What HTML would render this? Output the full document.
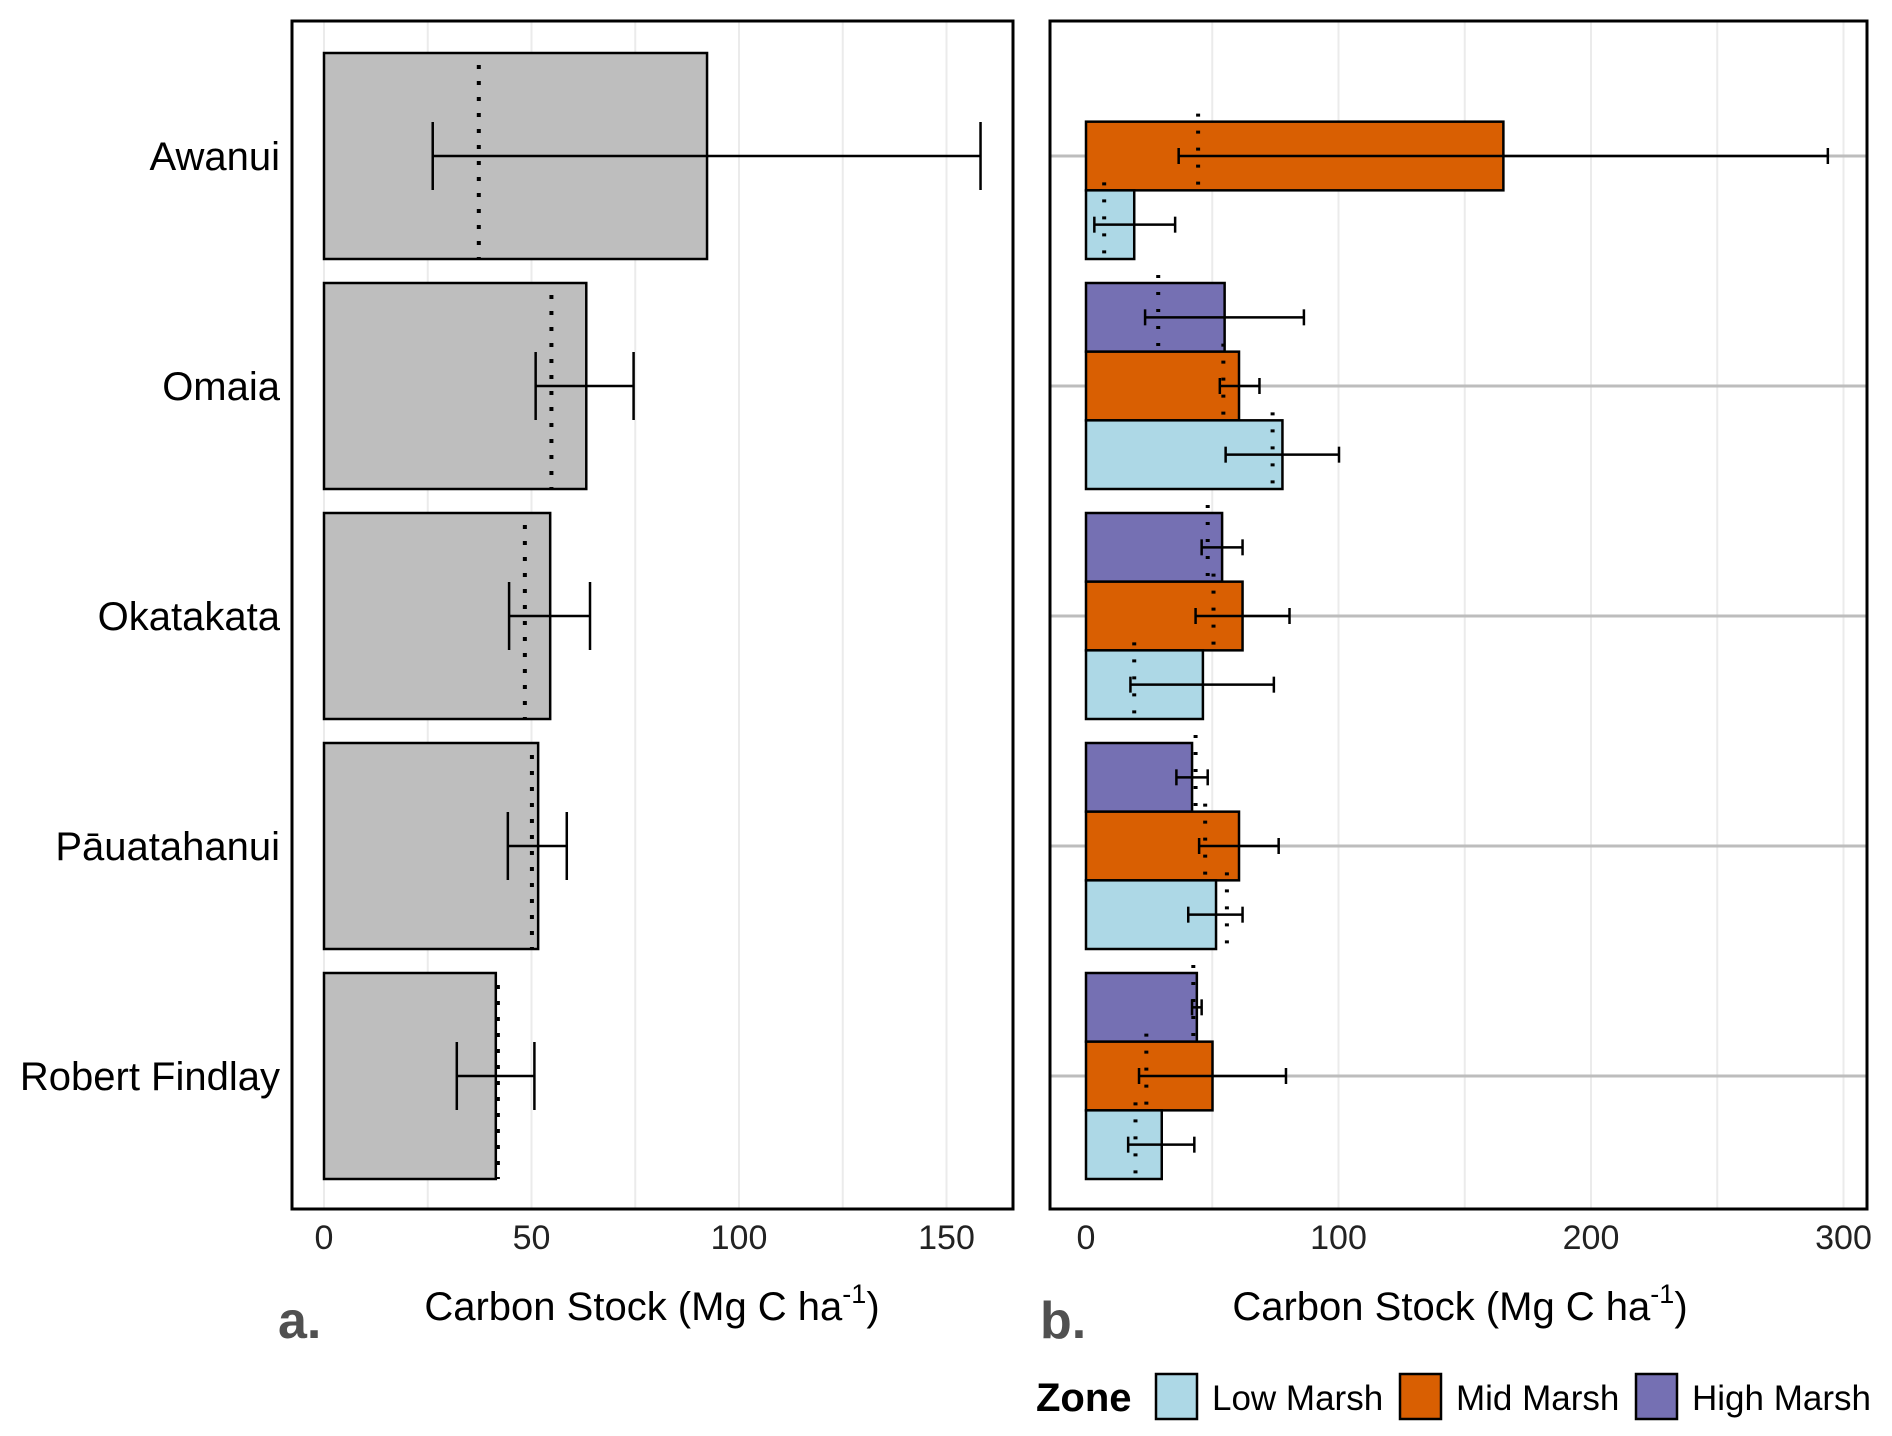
<!DOCTYPE html>
<html><head><meta charset="utf-8">
<style>
html,body{margin:0;padding:0;background:#fff;}
svg{display:block;font-family:"Liberation Sans",Arial,sans-serif;}
</style></head>
<body>
<svg id="chart" width="1892" height="1436" viewBox="0 0 1892 1436" xmlns="http://www.w3.org/2000/svg">
<g id="pa"></g>
<g id="pb"></g>
<g id="legend"></g>
</svg>
<script>
const sites = ["Awanui","Omaia","Okatakata","Pāuatahanui","Robert Findlay"];
// Panel a values
const aMean = [92.3, 63.2, 54.5, 51.6, 41.4];
const aLow  = [26.2, 51.0, 44.6, 44.3, 32.0];
const aHigh = [158.2, 74.6, 64.1, 58.5, 50.7];
const aMedian = [37.3, 54.8, 48.4, 50.1, 41.9];
const aTicks = [0, 50, 100, 150];
// Panel b values (null = no data)
const zones = ["Low Marsh","Mid Marsh","High Marsh"];
const lowMean = [19.1, 77.8, 46.3, 51.5, 30.0];
const lowErrL = [3.3, 55.3, 17.6, 40.5, 16.7];
const lowErrH = [35.3, 100.2, 74.4, 62.0, 42.9];
const lowMed  = [7.2, 73.9, 19.1, 55.8, 19.6];
const midMean = [165.3, 60.6, 62.0, 60.6, 50.1];
const midErrL = [36.7, 53.0, 43.4, 44.8, 21.0];
const midErrH = [293.8, 68.7, 80.6, 76.3, 79.2];
const midMed  = [44.4, 54.4, 50.5, 47.2, 23.9];
const highMean = [null, 54.9, 53.9, 42.0, 43.9];
const highErrL = [null, 23.4, 45.8, 35.8, 42.0];
const highErrH = [null, 86.3, 62.0, 48.2, 45.8];
const highMed  = [null, 28.6, 48.2, 43.4, 42.5];
const bTicks = [0, 100, 200, 300];

const NS="http://www.w3.org/2000/svg";
function mk(parent, tag, attrs, text){
  const e=document.createElementNS(NS,tag);
  for(const k in attrs) e.setAttribute(k, attrs[k]);
  if(text!==undefined) e.textContent=text;
  parent.appendChild(e); return e;
}
const band0 = 156, bandStep = 230, barH = 206;
const yC = i => band0 + i*bandStep;

// ---------- Panel a ----------
const pa=document.getElementById('pa');
const xa = v => 324 + v*4.15;
for(let v=0; v<=170; v+=25){
  const l=mk(pa,'line',{x1:xa(v),x2:xa(v),y1:22,y2:1208,stroke:'#ebebeb','stroke-width':2});
  
  
}
sites.forEach((s,i)=>{
  const y=yC(i);
  const r=mk(pa,'rect',{x:xa(0),y:y-barH/2,width:xa(aMean[i])-xa(0),height:barH,fill:'#bebebe',stroke:'#000','stroke-width':2.5});
  
  
  const d=mk(pa,'line',{x1:xa(aMedian[i]),x2:xa(aMedian[i]),y1:y-barH/2+12,y2:y+barH/2,stroke:'#000','stroke-width':4,'stroke-dasharray':'4 12'});
  
  
  const eg=mk(pa,'g',{stroke:'#000','stroke-width':2.5});
  
  
  mk(eg,'line',{x1:xa(aLow[i]),x2:xa(aHigh[i]),y1:y,y2:y});
  mk(eg,'line',{x1:xa(aLow[i]),x2:xa(aLow[i]),y1:y-34,y2:y+34});
  mk(eg,'line',{x1:xa(aHigh[i]),x2:xa(aHigh[i]),y1:y-34,y2:y+34});
  const t=mk(pa,'text',{x:280,y:y+14,'text-anchor':'end','font-size':40,fill:'#000'},s);
  
  
});
mk(pa,'rect',{x:292,y:21,width:721,height:1188,fill:'none',stroke:'#000','stroke-width':3});
aTicks.forEach(v=>{
  const t=mk(pa,'text',{x:xa(v),y:1249,'text-anchor':'middle','font-size':34,fill:'#222'},String(v));
  
  
});
{
  const t=mk(pa,'text',{x:652,y:1320,'text-anchor':'middle','font-size':40,fill:'#000'});
  
  
  mk(t,'tspan',{},'Carbon Stock (Mg C ha');
  mk(t,'tspan',{dy:-17,'font-size':27},'-1');
  mk(t,'tspan',{dy:17},')');
  const p=mk(pa,'text',{x:278,y:1338,'font-size':52,'font-weight':'bold',fill:'#505050'},'a.');
  
  
}

// ---------- Panel b ----------
const pb=document.getElementById('pb');
const xb = v => 1086 + v*2.525;
for(let v=50; v<=300; v+=50){
  const l=mk(pb,'line',{x1:xb(v),x2:xb(v),y1:22,y2:1208,stroke:'#ebebeb','stroke-width':2});
  
  
}
sites.forEach((s,i)=>{
  const l=mk(pb,'line',{x1:1050,x2:1867,y1:yC(i),y2:yC(i),stroke:'#bdbdbd','stroke-width':3});
  
  
});
const series=[
  {name:'high',mean:highMean,l:highErrL,h:highErrH,med:highMed,fill:'#7570b3',slot:-1},
  {name:'mid',mean:midMean,l:midErrL,h:midErrH,med:midMed,fill:'#d95f02',slot:0},
  {name:'low',mean:lowMean,l:lowErrL,h:lowErrH,med:lowMed,fill:'#add8e6',slot:1}
];
const sub=barH/3;
series.forEach(S=>{
  sites.forEach((s,i)=>{
    if(S.mean[i]===null) return;
    const cy=yC(i)+S.slot*sub;
    const r=mk(pb,'rect',{x:xb(0),y:cy-sub/2,width:xb(S.mean[i])-xb(0),height:sub,fill:S.fill,stroke:'#000','stroke-width':2.5});
    
    
  });
});
series.forEach(S=>{
  sites.forEach((s,i)=>{
    if(S.mean[i]===null) return;
    const cy=yC(i)+S.slot*sub;
    const d=mk(pb,'line',{x1:xb(S.med[i]),x2:xb(S.med[i]),y1:cy-sub/2-8,y2:cy+sub/2,stroke:'#000','stroke-width':4,'stroke-dasharray':'3 14'});
    
    
    const eg=mk(pb,'g',{stroke:'#000','stroke-width':2.5});
    
    
    mk(eg,'line',{x1:xb(S.l[i]),x2:xb(S.h[i]),y1:cy,y2:cy});
    mk(eg,'line',{x1:xb(S.l[i]),x2:xb(S.l[i]),y1:cy-8,y2:cy+8});
    mk(eg,'line',{x1:xb(S.h[i]),x2:xb(S.h[i]),y1:cy-8,y2:cy+8});
  });
});
mk(pb,'rect',{x:1050,y:21,width:817,height:1188,fill:'none',stroke:'#000','stroke-width':3});
bTicks.forEach(v=>{
  const t=mk(pb,'text',{x:xb(v),y:1249,'text-anchor':'middle','font-size':34,fill:'#222'},String(v));
  
  
});
{
  const t=mk(pb,'text',{x:1460,y:1320,'text-anchor':'middle','font-size':40,fill:'#000'});
  
  
  mk(t,'tspan',{},'Carbon Stock (Mg C ha');
  mk(t,'tspan',{dy:-17,'font-size':27},'-1');
  mk(t,'tspan',{dy:17},')');
  const p=mk(pb,'text',{x:1040,y:1338,'font-size':52,'font-weight':'bold',fill:'#505050'},'b.');
  
  
}

// ---------- Legend ----------
const lg=document.getElementById('legend');
{
  const t=mk(lg,'text',{x:1036,y:1411,'font-size':40,'font-weight':'bold',fill:'#000'},'Zone');
  
  
}
const legItems=[
  {label:'Low Marsh',fill:'#add8e6',bx:1156,tx:1212},
  {label:'Mid Marsh',fill:'#d95f02',bx:1400,tx:1456},
  {label:'High Marsh',fill:'#7570b3',bx:1636,tx:1692}
];
legItems.forEach(L=>{
  const g=mk(lg,'g',{});
  
  
  mk(g,'rect',{x:L.bx,y:1374,width:41,height:45,fill:L.fill,stroke:'#000','stroke-width':2.5});
  mk(g,'text',{x:L.tx,y:1410,'font-size':35,fill:'#000'},L.label);
});
</script>
</body></html>
